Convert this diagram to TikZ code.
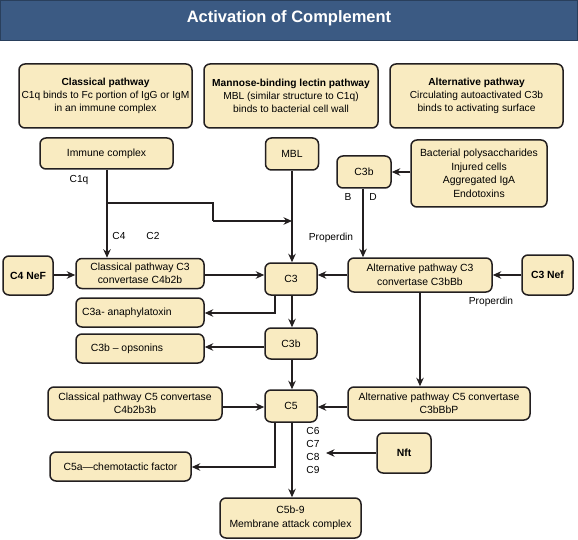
\documentclass[tikz,border=0pt]{standalone}
\usepackage{fontspec}
\setmainfont{Liberation Sans}
\usetikzlibrary{arrows.meta}
\definecolor{boxfill}{HTML}{F9EBC1}
\definecolor{boxline}{HTML}{231F20}
\definecolor{titlebar}{HTML}{3B5A83}
\begin{document}
\begin{tikzpicture}[x=1pt,y=-1pt,
  box/.style={draw=boxline, fill=boxfill, line width=1.5pt, rounded corners=6pt,
    align=center, inner sep=1pt, font=\fontsize{10.4}{13.5}\selectfont},
  topbox/.style={box, font=\fontsize{10.2}{13}\selectfont},
  lbl/.style={font=\fontsize{10.2}{12}\selectfont, inner sep=0pt},
  conn/.style={draw=boxline, line width=1.35pt, -{Stealth[length=8.5pt,width=7.5pt]}},
  plain/.style={draw=boxline, line width=1.35pt}]
\useasboundingbox (0,0) rectangle (578,540);
\fill[white] (0,0) rectangle (578,540);
% title
\draw[fill=titlebar, draw=titlebar!70!black, line width=0.6pt] (0.3,0.3) rectangle (577.7,40);
\node[text=white, font=\fontsize{16.5}{18}\selectfont\bfseries] (title) at (289,18) {Activation of Complement};
% top boxes
\node[topbox, minimum width=173pt, minimum height=64pt] (cls) at (105.5,96) {\textbf{Classical pathway}\\C1q binds to Fc portion of IgG or IgM\\in an immune complex};
\node[topbox, minimum width=174pt, minimum height=64pt] (mblp) at (291,96) {\textbf{Mannose-binding lectin pathway}\\MBL (similar structure to C1q)\\binds to bacterial cell wall};
\node[topbox, minimum width=173pt, minimum height=64pt] (altp) at (476.5,96) {\textbf{Alternative pathway}\\Circulating autoactivated C3b\\binds to activating surface};
% nodes
\node[box, minimum width=133pt, minimum height=31pt] (imm) at (106.5,153.5) {Immune complex};
\node[box, minimum width=53pt, minimum height=32pt] (mbl) at (292,154) {MBL};
\node[box, minimum width=54pt, minimum height=32pt] (c3btop) at (364,172) {C3b};
\node[box, minimum width=136pt, minimum height=67pt] (bact) at (479,173.5) {Bacterial polysaccharides\\Injured cells\\Aggregated IgA\\Endotoxins};
\node[box, minimum width=50pt, minimum height=39pt] (c4nef) at (28,275.5) {\textbf{C4 NeF}};
\node[box, minimum width=128pt, minimum height=30pt] (clsc3) at (140,273.5) {Classical pathway C3\\convertase C4b2b};
\node[box, minimum width=52pt, minimum height=32pt] (c3) at (291,279) {C3};
\node[box, minimum width=144pt, minimum height=34pt] (altc3) at (420,275) {Alternative pathway C3\\convertase C3bBb};
\node[box, minimum width=51pt, minimum height=40pt] (c3nef) at (547.5,275) {\textbf{C3 Nef}};
\node[box, minimum width=128pt, minimum height=29pt] (c3a) at (140,312.5) {C3a- anaphylatoxin\hspace{26pt}};
\node[box, minimum width=52pt, minimum height=31pt] (c3bmid) at (291,343.5) {C3b};
\node[box, minimum width=128pt, minimum height=29pt] (opso) at (140,348.5) {C3b -- opsonins\hspace{26pt}};
\node[box, minimum width=174pt, minimum height=33pt] (clsc5) at (135,403.5) {Classical pathway C5 convertase\\C4b2b3b};
\node[box, minimum width=52pt, minimum height=32pt] (c5) at (291,406) {C5};
\node[box, minimum width=182pt, minimum height=33pt] (altc5) at (439,403.5) {Alternative pathway C5 convertase\\C3bBbP};
\node[box, minimum width=141pt, minimum height=29pt] (c5a) at (120.5,466.5) {C5a---chemotactic factor};
\node[box, minimum width=54pt, minimum height=40pt] (nft) at (404,453) {\textbf{Nft}};
\node[box, minimum width=141pt, minimum height=40pt] (mac) at (290.5,518) {C5b-9\\Membrane attack complex};
% labels
\node[lbl] (lc1q) at (79,180) {C1q};
\node[lbl] (lc4) at (119,236) {C4};
\node[lbl] (lc2) at (153,236) {C2};
\node[lbl] (lprop1) at (331,238) {Properdin};
\node[lbl] (lb) at (348,197) {B};
\node[lbl] (ld) at (373,197) {D};
\node[lbl] (lprop2) at (491,302) {Properdin};
\node[lbl] (lc6) at (313,431) {C6};
\node[lbl] (lc7) at (313,444) {C7};
\node[lbl] (lc8) at (313,457) {C8};
\node[lbl] (lc9) at (313,470) {C9};
\coordinate (nftend) at (326,453);
\coordinate (br1) at (107,203);
% connectors
\draw[conn] (imm.south -| 107,0) -- (clsc3.north -| 107,0);
\draw[plain] (br1) -- (213,203) -- (213,221);
\draw[conn] (213,221) -- (mbl.south |- 0,221);
\draw[conn] (mbl.south) -- (c3.north -| mbl.south);
\draw[conn] (c4nef.east |- 0,275) -- (clsc3.west |- 0,275);
\draw[conn] (clsc3.east |- 0,275) -- (c3.west |- 0,275);
\draw[conn] (altc3.west |- 0,275) -- (c3.east |- 0,275);
\draw[conn] (c3nef.west |- 0,275) -- (altc3.east |- 0,275);
\draw[conn] (bact.west |- 0,172) -- (c3btop.east |- 0,172);
\draw[conn] (c3btop.south -| 363,0) -- (altc3.north -| 363,0);
\draw[conn] (c3.south -| 275,0) -- (275,313) -- (c3a.east |- 0,313);
\draw[conn] (c3.south -| 292,0) -- (c3bmid.north -| 292,0);
\draw[conn] (c3bmid.west |- 0,347) -- (opso.east |- 0,347);
\draw[conn] (c3bmid.south -| 292,0) -- (c5.north -| 292,0);
\draw[conn] (altc3.south -| 420,0) -- (altc5.north -| 420,0);
\draw[conn] (clsc5.east |- 0,407) -- (c5.west |- 0,407);
\draw[conn] (altc5.west |- 0,407) -- (c5.east |- 0,407);
\draw[conn] (c5.south -| 275,0) -- (275,467) -- (c5a.east |- 0,467);
\draw[conn] (c5.south -| 292,0) -- (mac.north -| 292,0);
\draw[conn] (nft.west) -- (nftend);
\end{tikzpicture}
\end{document}
